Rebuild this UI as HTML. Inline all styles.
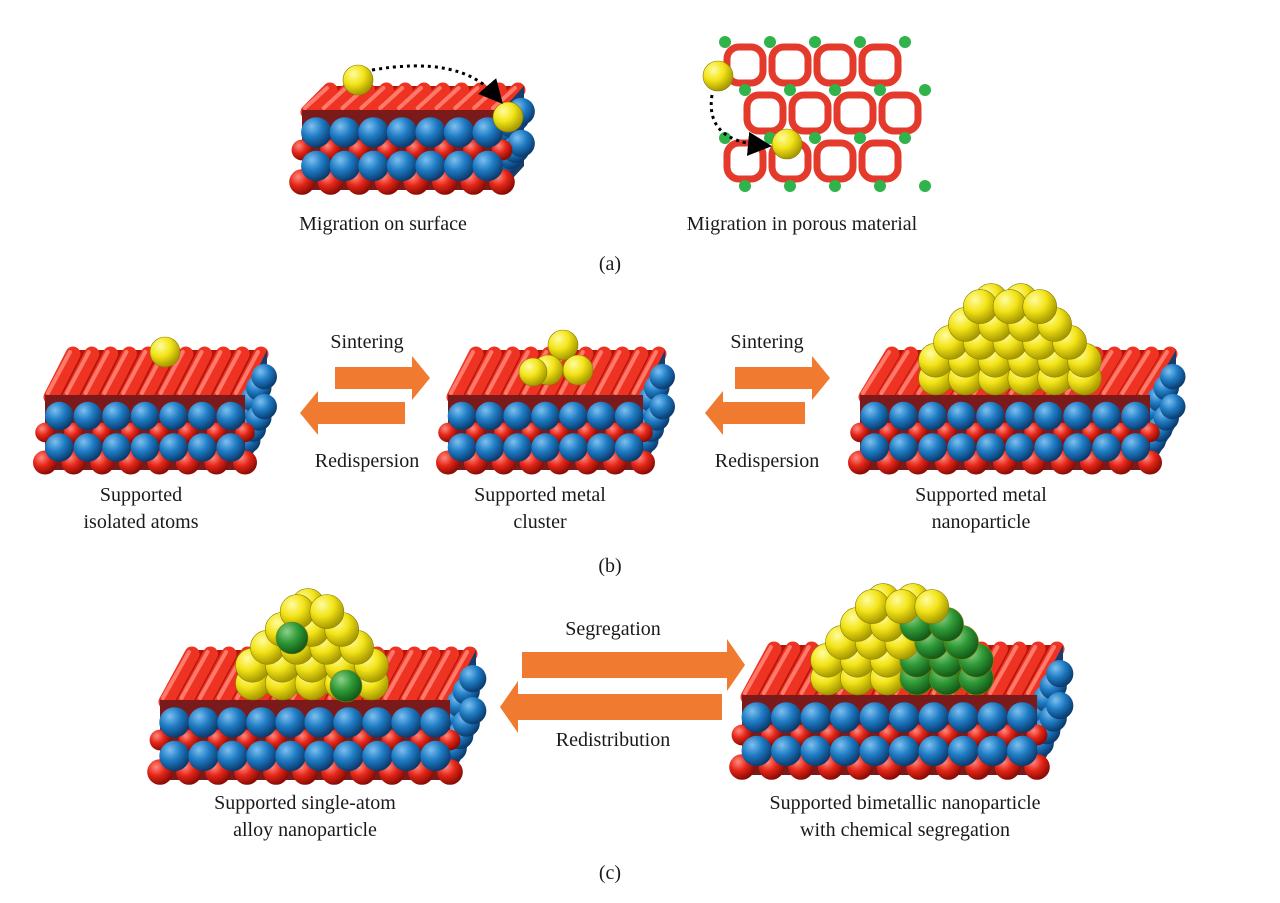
<!DOCTYPE html>
<html><head><meta charset="utf-8">
<style>
html,body{margin:0;padding:0;background:#fff;}
#wrap{position:relative;width:1280px;height:903px;overflow:hidden;font-family:"Liberation Serif",serif;}
svg{position:absolute;left:0;top:0;}
.t{font-family:"Liberation Serif",serif;font-size:20px;fill:#1a1a1a;text-anchor:middle;}
</style></head>
<body>
<div id="wrap">
<svg id="s" width="1280" height="903" viewBox="0 0 1280 903">
<defs>
<radialGradient id="gy" cx="35%" cy="30%" r="70%"><stop offset="0" stop-color="#fffca0"/><stop offset="0.5" stop-color="#f3e418"/><stop offset="1" stop-color="#a89a00"/></radialGradient>
<radialGradient id="gb" cx="35%" cy="30%" r="70%"><stop offset="0" stop-color="#7ec0f0"/><stop offset="0.5" stop-color="#1f7cc4"/><stop offset="1" stop-color="#0b3c70"/></radialGradient>
<radialGradient id="gr" cx="35%" cy="30%" r="70%"><stop offset="0" stop-color="#ff8a80"/><stop offset="0.5" stop-color="#e52618"/><stop offset="1" stop-color="#8a0c05"/></radialGradient>
<radialGradient id="gg" cx="35%" cy="30%" r="70%"><stop offset="0" stop-color="#8fd08a"/><stop offset="0.5" stop-color="#2f9a37"/><stop offset="1" stop-color="#135a18"/></radialGradient>
<marker id="ah" markerWidth="8" markerHeight="8" refX="4" refY="4" orient="auto"><path d="M0,0 L8,4 L0,8 z" fill="#000"/></marker>
</defs>
<g id="art"></g>
<g>
<text class="t" x="383" y="230">Migration on surface</text>
<text class="t" x="802" y="230">Migration in porous material</text>
<text class="t" x="610" y="270">(a)</text>
<text class="t" x="367" y="348">Sintering</text>
<text class="t" x="367" y="467">Redispersion</text>
<text class="t" x="767" y="348">Sintering</text>
<text class="t" x="767" y="467">Redispersion</text>
<text class="t" x="141" y="501">Supported</text>
<text class="t" x="141" y="528">isolated atoms</text>
<text class="t" x="540" y="501">Supported metal</text>
<text class="t" x="540" y="528">cluster</text>
<text class="t" x="981" y="501">Supported metal</text>
<text class="t" x="981" y="528">nanoparticle</text>
<text class="t" x="610" y="572">(b)</text>
<text class="t" x="613" y="635">Segregation</text>
<text class="t" x="613" y="746">Redistribution</text>
<text class="t" x="305" y="809">Supported single-atom</text>
<text class="t" x="305" y="836">alloy nanoparticle</text>
<text class="t" x="905" y="809">Supported bimetallic nanoparticle</text>
<text class="t" x="905" y="836">with chemical segregation</text>
<text class="t" x="610" y="879">(c)</text>
</g>
</svg>
</div>
<script>
const NS="http://www.w3.org/2000/svg";
const art=document.getElementById('art');
function mk(tag,attrs,parent){const e=document.createElementNS(NS,tag);for(const k in attrs)e.setAttribute(k,attrs[k]);(parent||art).appendChild(e);return e;}
function grp(name){const g=mk('g',{});


return g;}
function slab(name,x0,yt,w,fh,dx,dy){
  const g=grp(name);
  mk('polygon',{points:`${x0},${yt} ${x0+w},${yt} ${x0+w+dx},${yt-dy} ${x0+dx},${yt-dy}`,fill:'#b5140a'},g);
  const n=Math.round(w/20);
  for(let i=0;i<=n;i++){const x=x0+6+i*(w-12)/n;
    mk('line',{x1:x,y1:yt+2,x2:x+dx,y2:yt-dy+4,stroke:'#ee3322','stroke-width':15,'stroke-linecap':'round'},g);
    mk('line',{x1:x-3,y1:yt-2,x2:x+dx-3,y2:yt-dy+2,stroke:'#ff7a6a','stroke-width':4,'stroke-linecap':'round'},g);}
  mk('polygon',{points:`${x0+w},${yt} ${x0+w+dx},${yt-dy} ${x0+w+dx},${yt-dy+fh} ${x0+w},${yt+fh}`,fill:'#1a3c6a'},g);
  const sc=4;
  for(let r=0;r<2;r++)for(let i=0;i<sc;i++){const f=(i+0.5)/sc;
    mk('circle',{cx:x0+w+dx*f,cy:yt-dy*f+fh*0.28+r*fh*0.4,r:fh*0.17,fill:'url(#gb)'},g);}
  mk('rect',{x:x0,y:yt,width:w,height:fh,fill:'#7a1a1a'},g);
  const cols=Math.round(w/30);const sp=w/cols;
  for(let i=0;i<=cols;i++)mk('circle',{cx:x0+i*sp,cy:yt+fh*0.9,r:fh*0.16,fill:'url(#gr)'},g);
  for(let i=0;i<=cols;i++)mk('circle',{cx:x0+i*sp,cy:yt+fh*0.5,r:fh*0.13,fill:'url(#gr)'},g);
  for(let r=0;r<2;r++)for(let i=0;i<cols;i++)mk('circle',{cx:x0+(i+0.5)*sp,cy:yt+fh*0.28+r*fh*0.42,r:fh*0.19,fill:'url(#gb)'},g);
  return g;
}
function ball(g,cx,cy,r,c){mk('circle',{cx,cy,r,fill:c||'url(#gy)',stroke:'#8a7e00','stroke-width':0.6},g);}
function particle(name,cx,base,r,rows,greenFn){
  const g=grp(name);
  const sx=r*1.75, sy=r*1.05;
  rows.forEach((n,row)=>{
    const y=base-r-row*sy-6;
    for(let i=0;i<n-1;i++){const x=cx-(n-1)*sx/2+i*sx+sx/2-4;
      ball(g,x,y,r,greenFn&&greenFn(row,i,n)?'url(#gg)':'url(#gy)');}
  });
  rows.forEach((n,row)=>{
    const y=base-r-row*sy;
    for(let i=0;i<n;i++){const x=cx-(n-1)*sx/2+i*sx;
      ball(g,x,y,r,greenFn&&greenFn(row,i,n)?'url(#gg)':'url(#gy)');}
  });
  return g;
}
// ---- panel a
slab('slab-a',302,110,200,80,22,24);
{const g=grp('surface-migration');
ball(g,358,80,15);ball(g,508,117,15);
mk('path',{d:'M372,70 Q460,55 495,95',fill:'none',stroke:'#000','stroke-width':3,'stroke-dasharray':'3 4','marker-end':'url(#ah)'},g);}
{const g=grp('porous-framework');
for(let r=0;r<3;r++)for(let c=0;c<4;c++){const x=745+c*45+(r%2)*20,y=65+r*48;
  mk('rect',{x:x-18,y:y-18,width:36,height:36,rx:12,fill:'none',stroke:'#e33a2c','stroke-width':7},g);}
for(let r=0;r<4;r++)for(let c=0;c<5;c++){const x=725+c*45+(r%2)*20,y=42+r*48;
  mk('circle',{cx:x,cy:y,r:6,fill:'#2fb34a'},g);}
ball(g,718,76,15);ball(g,787,144,15);
mk('path',{d:'M712,95 Q705,140 760,145',fill:'none',stroke:'#000','stroke-width':3,'stroke-dasharray':'3 4','marker-end':'url(#ah)'},g);}
// ---- panel b
slab('slab-isolated',45,395,200,75,22,45);
{const g=grp('isolated-atom');ball(g,165,352,15);}
slab('slab-cluster',448,395,195,75,22,45);
{const g=grp('metal-cluster');ball(g,563,345,15);ball(g,548,370,15);ball(g,578,370,15);ball(g,533,372,14);}
slab('slab-nanoparticle',860,395,290,75,26,45);
particle('metal-nanoparticle',1010,395,17,[6,6,5,4,3],null);
function arrow(name,x1,x2,y,h){const g=grp(name);
  const dir=x2>x1?1:-1;const head=18*dir;
  mk('polygon',{points:`${x1},${y-h/2} ${x2-head},${y-h/2} ${x2-head},${y-h} ${x2},${y} ${x2-head},${y+h} ${x2-head},${y+h/2} ${x1},${y+h/2}`,fill:'#f07a30'},g);}
arrow('arrow-sinter-1',335,430,378,22);
arrow('arrow-redisperse-1',405,300,413,22);
arrow('arrow-sinter-2',735,830,378,22);
arrow('arrow-redisperse-2',805,705,413,22);
// ---- panel c
slab('slab-saa',160,700,290,80,26,50);
particle('saa-nanoparticle',312,700,17,[5,5,4,3,2],null);
{const g=grp('saa-green-atoms');ball(g,292,638,16,'url(#gg)');ball(g,346,686,16,'url(#gg)');}
slab('slab-bimetal',742,695,295,80,26,50);
particle('bimetal-nanoparticle',902,695,17,[6,6,5,4,3],(row,i,n)=>i>=n-2-(row<2?1:0)&&row<4);
arrow('arrow-segregation',522,745,665,26);
arrow('arrow-redistribution',722,500,707,26);
</script>
</body></html>
